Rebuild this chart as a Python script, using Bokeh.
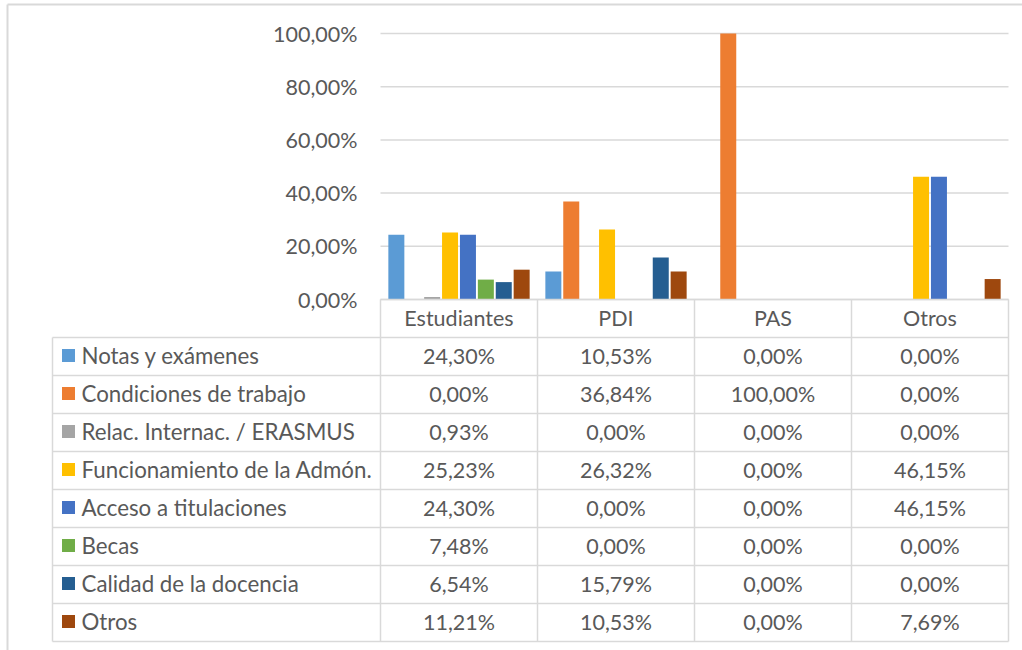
from bokeh.plotting import figure
from bokeh.models import Range1d, FixedTicker, ColumnDataSource, LinearAxis
from bokeh.core.properties import value
from bokeh.embed import file_html
from bokeh.resources import INLINE

# ---------------- data ----------------
categories = ["Estudiantes", "PDI", "PAS", "Otros"]
series_names = [
    "Notas y exámenes",
    "Condiciones de trabajo",
    "Relac. Internac. / ERASMUS",
    "Funcionamiento de la Admón.",
    "Acceso a titulaciones",
    "Becas",
    "Calidad de la docencia",
    "Otros",
]
notas = [24.30, 10.53, 0.00, 0.00]
condiciones = [0.00, 36.84, 100.00, 0.00]
relac = [0.93, 0.00, 0.00, 0.00]
funcionamiento = [25.23, 26.32, 0.00, 46.15]
acceso = [24.30, 0.00, 0.00, 46.15]
becas = [7.48, 0.00, 0.00, 0.00]
calidad = [6.54, 15.79, 0.00, 0.00]
otros = [11.21, 10.53, 0.00, 7.69]
series_values = [notas, condiciones, relac, funcionamiento, acceso, becas, calidad, otros]
series_colors = ["#5B9BD5", "#ED7D31", "#A5A5A5", "#FFC000",
                 "#4472C4", "#70AD47", "#255E91", "#9E480E"]
y_ticks = [0, 20, 40, 60, 80, 100]
y_tick_labels = ["0,00%", "20,00%", "40,00%", "60,00%", "80,00%", "100,00%"]

FONT = "Lato"
TXT = "#595959"
GRID = "#D9D9D9"
FS = "21.5px"
FS_LAB = "22.3px"

def pct(v):
    return f"{v:.2f}%".replace(".", ",")

# ---------------- geometry (page pixels -> data units) ----------------
W, H = 1022, 650
PAGE0 = 0
unit_px = 157.0          # pixels per category
pct_px = 2.66            # pixels per percentage point
x0_page = 380            # left edge of first category
y0_page = 299            # zero line
x_start = -(x0_page - PAGE0) / unit_px
x_end = x_start + W / unit_px
y_end = (y0_page - PAGE0) / pct_px
y_start = y_end - H / pct_px
row_h = 38.0 / pct_px     # table row height in %

def px_x(px):
    return (px - x0_page) / unit_px

def px_y(py):
    return (y0_page - py) / pct_px

p = figure(width=W, height=H,
           x_range=Range1d(x_start, x_end), y_range=Range1d(y_start, y_end),
           x_axis_location=None, y_axis_location=None,
           output_backend="svg", toolbar_location=None,
           min_border=0, outline_line_color=None)
p.grid.visible = False

# outer chart border (left and top)
p.segment(x0=[px_x(7), px_x(7)], y0=[y_start, px_y(4)],
          x1=[px_x(7), x_end], y1=[px_y(4), px_y(4)],
          line_color=GRID, line_width=2)

ncat = len(categories)
# horizontal gridlines across the plot area
p.segment(x0=[0] * len(y_ticks), y0=y_ticks, x1=[ncat] * len(y_ticks), y1=y_ticks,
          line_color=GRID, line_width=1.5)

# y axis drawn at the left edge of the plot area
yax = LinearAxis(fixed_location=0, ticker=FixedTicker(ticks=y_ticks),
                 major_label_overrides={t: l for t, l in zip(y_ticks, y_tick_labels)})
p.add_layout(yax, "left")
yax.axis_line_color = None
yax.major_tick_line_color = None
yax.minor_tick_line_color = None
yax.major_tick_out = 0
yax.major_tick_in = 0
yax.major_label_standoff = 23
yax.major_label_text_font = FONT
yax.major_label_text_font_size = FS
yax.major_label_text_color = TXT

# x axis (category names) in the header row of the table
cat_centers = [i + 0.5 for i in range(ncat)]
xax = LinearAxis(fixed_location=0, ticker=FixedTicker(ticks=cat_centers),
                 major_label_overrides={c: n for c, n in zip(cat_centers, categories)})
p.add_layout(xax, "below")
xax.axis_line_color = None
xax.major_tick_line_color = None
xax.minor_tick_line_color = None
xax.major_tick_out = 0
xax.major_tick_in = 0
xax.major_label_standoff = 5
xax.major_label_text_font = FONT
xax.major_label_text_font_size = FS
xax.major_label_text_color = TXT

# bars
slot = 17.9 / unit_px
bar_w = 16.0 / unit_px
n = len(series_names)
for j, (name, vals, col) in enumerate(zip(series_names, series_values, series_colors)):
    off = (j - (n - 1) / 2) * slot
    src = ColumnDataSource(dict(x=[i + 0.5 + off for i in range(ncat)], top=vals))
    p.vbar(x="x", top="top", bottom=0, width=bar_w, source=src,
           fill_color=col, line_color=None)

# ---------------- data table ----------------
nrows = len(series_names)
label_left = px_x(52)
table_bottom = -(nrows + 1) * row_h
row_lines = [-(k + 1) * row_h for k in range(nrows + 1)]
# header row: top line (axis) + verticals
p.segment(x0=[0], y0=[0], x1=[ncat], y1=[0], line_color=GRID, line_width=1.5)
p.segment(x0=list(range(ncat + 1)), y0=[0] * (ncat + 1),
          x1=list(range(ncat + 1)), y1=[table_bottom] * (ncat + 1),
          line_color=GRID, line_width=1.5)
# body rows
p.segment(x0=[label_left] * len(row_lines), y0=row_lines,
          x1=[ncat] * len(row_lines), y1=row_lines,
          line_color=GRID, line_width=1.5)
p.segment(x0=[label_left], y0=[-row_h], x1=[label_left], y1=[table_bottom],
          line_color=GRID, line_width=1.5)

row_centers = [-(r + 1.5) * row_h + 1.0 / pct_px for r in range(nrows)]
p.rect(x=[px_x(68)] * nrows, y=row_centers, width=13, height=13,
       width_units="screen", height_units="screen",
       fill_color=series_colors, line_color=None)
p.text(x=[px_x(81)] * nrows, y=row_centers, text=series_names,
       text_font=value(FONT), text_font_size=FS_LAB, text_color=TXT,
       text_align="left", text_baseline="middle")

vx_t, vy_t, vt = [], [], []
for r, vals in enumerate(series_values):
    for i, v in enumerate(vals):
        vx_t.append(i + 0.5)
        vy_t.append(row_centers[r])
        vt.append(pct(v))
p.text(x=vx_t, y=vy_t, text=vt,
       text_font=value(FONT), text_font_size=FS, text_color=TXT,
       text_align="center", text_baseline="middle")

open("out.html", "w").write(file_html(p, INLINE))
